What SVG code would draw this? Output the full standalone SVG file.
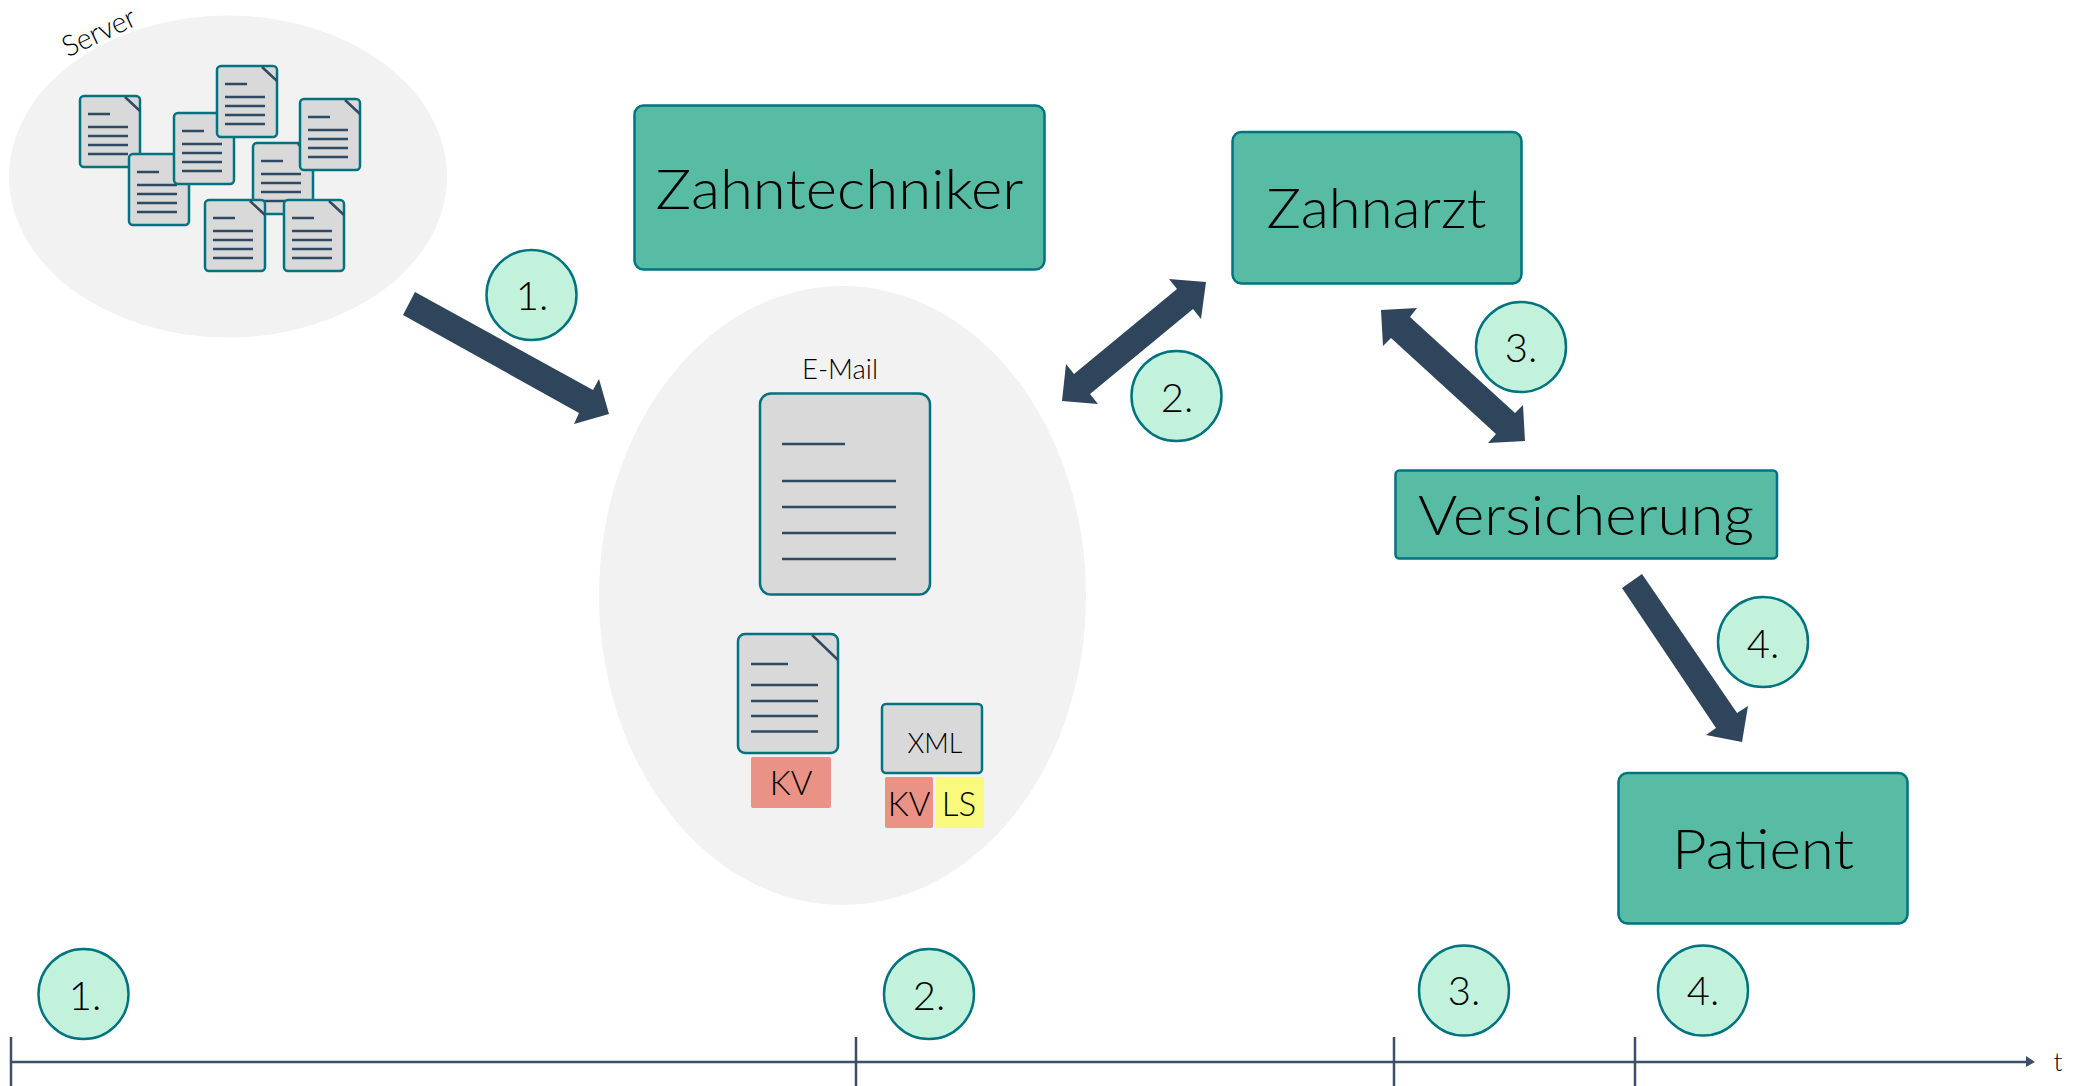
<svg xmlns="http://www.w3.org/2000/svg" xmlns:xlink="http://www.w3.org/1999/xlink" width="2078" height="1086" viewBox="0 0 2078 1086">
<style>
text{font-family:"Lato","Noto Sans","Liberation Sans",sans-serif;font-weight:300;fill:#000;text-anchor:middle}
.blob{fill:#f2f2f2}
.doc{fill:#d9d9d9;stroke:#007380;stroke-width:2.5}
.ln{stroke:#2f4b63;stroke-width:2.5;fill:none}
.box{fill:#58bba3;stroke:#007380;stroke-width:2.5}
.c{fill:#c3f2dc;stroke:#007380;stroke-width:2.5}
.num{font-size:40px}
.big{font-size:56px}
.arrow{fill:#2f455c}
.axis{stroke:#3a5068;stroke-width:2.5;fill:none}
.red{fill:#ea9285}
.yel{fill:#f9fa7d}
</style>
<defs>
<g id="d"><rect class="doc" x="0" y="0" width="60" height="71" rx="4"/><path class="ln" d="M45 1L60 15M8 18H30M8 31H48M8 40H48M8 49H48M8 58H48"/></g>
</defs>
<g id="server"><ellipse class="blob" cx="228" cy="176.500" rx="219" ry="161"/>
<text transform="translate(103 41) rotate(-25)" font-size="29" textLength="78" lengthAdjust="spacingAndGlyphs">Server</text>
<use xlink:href="#d" x="80" y="96"/><use xlink:href="#d" x="129" y="154"/><use xlink:href="#d" x="174" y="113"/><use xlink:href="#d" x="217" y="66"/><use xlink:href="#d" x="253" y="143"/><use xlink:href="#d" x="300" y="99"/><use xlink:href="#d" x="205" y="200"/><use xlink:href="#d" x="284" y="200"/></g>
<g id="email"><ellipse class="blob" cx="842.500" cy="595.500" rx="243.500" ry="309.500"/>
<text x="840" y="379" font-size="27" textLength="76" lengthAdjust="spacingAndGlyphs">E-Mail</text>
<rect class="doc" x="760" y="393.500" width="170" height="201" rx="11"/>
<path class="ln" d="M782 444H845M782 481H896M782 507H896M782 533H896M782 559H896"/></g>
<g id="attachment"><rect class="doc" x="738" y="634" width="100" height="119" rx="7"/>
<path class="ln" d="M812 635L838 660M751 664H788M751 685H818M751 701H818M751 716H818M751 731.500H818"/>
<rect class="red" x="751" y="757" width="80" height="51" rx="2"/><text x="791" y="795" font-size="33">KV</text></g>
<g id="xml"><rect class="doc" x="882" y="704" width="100" height="69" rx="4"/><text x="935" y="753" font-size="27">XML</text>
<rect class="red" x="885" y="777" width="48" height="51" rx="2"/><text x="909" y="816" font-size="33">KV</text>
<rect class="yel" x="936" y="777" width="48" height="51" rx="2"/><text x="959" y="816" font-size="33">LS</text></g>
<g id="zahntechniker"><rect class="box" x="634.500" y="105.500" width="410" height="164" rx="9"/><text x="839.500" y="209" class="big" textLength="368" lengthAdjust="spacingAndGlyphs">Zahntechniker</text></g>
<g id="zahnarzt"><rect class="box" x="1232.500" y="132" width="289" height="151.500" rx="9"/><text x="1376.500" y="228" class="big" textLength="220" lengthAdjust="spacingAndGlyphs">Zahnarzt</text></g>
<g id="versicherung"><rect class="box" x="1395.500" y="470.500" width="381.500" height="88" rx="4"/><text x="1586" y="535" class="big" textLength="336" lengthAdjust="spacingAndGlyphs">Versicherung</text></g>
<g id="patient"><rect class="box" x="1618.500" y="773" width="289" height="150.500" rx="9"/><text x="1763" y="869" class="big" textLength="182" lengthAdjust="spacingAndGlyphs">Patient</text></g>
<g id="connectors">
<polygon class="arrow" points="1206,282 1201,319 1193,309 1090,394 1098,404 1062,401 1066,364 1074,374 1177,289 1169,279"/>
<polygon class="arrow" points="1381,310 1417,308 1410,317 1515,413 1523,405 1525,441 1488,443 1496,434 1391,338 1383,346"/>
<polygon class="arrow" points="415,292 593,390 599,379 609,414 574,424 579,413 403,315"/>
<polygon class="arrow" points="1642,574 1737,713 1748,706 1742,742 1706,735 1716,728 1622,588"/>
<g id="axis"><path class="axis" d="M11 1062H2030M11 1037V1086M856 1037V1086M1394 1037V1086M1635 1037V1086"/><polygon points="2026,1056 2035,1062 2026,1067" fill="#3a5068"/></g>
</g>
<text x="2058" y="1071" font-size="26" id="t">t</text>
<g id="c1"><circle class="c" cx="531.500" cy="295" r="45"/><text class="num" x="532" y="310">1.</text></g>
<g id="c2"><circle class="c" cx="1176.500" cy="396" r="45"/><text class="num" x="1177" y="412">2.</text></g>
<g id="c3"><circle class="c" cx="1521" cy="347" r="45"/><text class="num" x="1521" y="362">3.</text></g>
<g id="c4"><circle class="c" cx="1763" cy="642" r="45"/><text class="num" x="1763" y="658">4.</text></g>
<g id="t1"><circle class="c" cx="83.500" cy="994" r="45"/><text class="num" x="85" y="1010">1.</text></g>
<g id="t2"><circle class="c" cx="929" cy="994" r="45"/><text class="num" x="929" y="1010">2.</text></g>
<g id="t3"><circle class="c" cx="1464" cy="990.500" r="45"/><text class="num" x="1464" y="1005">3.</text></g>
<g id="t4"><circle class="c" cx="1703" cy="990.500" r="45"/><text class="num" x="1703" y="1005">4.</text></g>
</svg>
